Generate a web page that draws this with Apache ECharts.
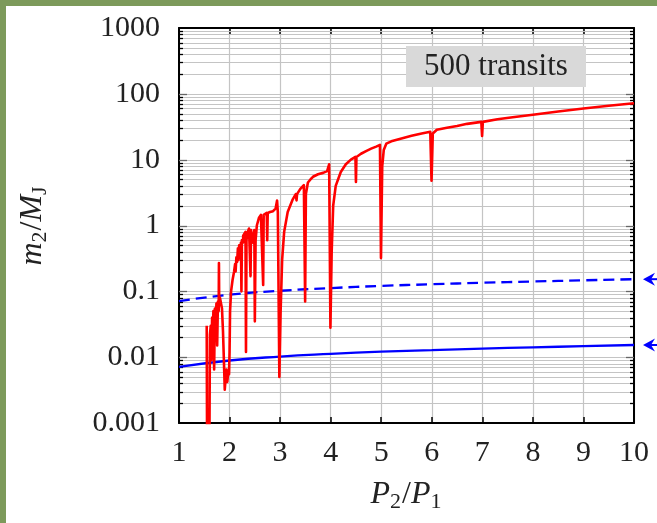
<!DOCTYPE html>
<html><head><meta charset="utf-8">
<script src="https://cdn.jsdelivr.net/npm/echarts@6/dist/echarts.min.js"></script>
<style>html,body{margin:0;padding:0;background:#fff;}#c{width:657px;height:523px;}</style>
</head><body><div id="c"></div>
<script>
// ---- data ----
const xTickLabels = ['1','2','3','4','5','6','7','8','9','10'];
const yTickLabels = ['0.001','0.01','0.1','1','10','100','1000'];
const blueX = [1, 2, 3, 4, 5, 6, 7, 8, 9, 10];
const blueSolid = [0.0071, 0.0089, 0.0102, 0.0112, 0.0121, 0.0128, 0.0135, 0.0141, 0.0147, 0.0153];
const blueDashed = [0.071, 0.089, 0.102, 0.112, 0.121, 0.128, 0.135, 0.141, 0.147, 0.153];
const redCurve = [
  [1.548, 0.03], [1.556, 0.0003], [1.60, 0.0003], [1.612, 0.022], [1.628, 0.03],
  [1.64, 0.009], [1.655, 0.04], [1.665, 0.012], [1.68, 0.05], [1.695, 0.0065],
  [1.71, 0.055], [1.725, 0.025], [1.74, 0.065], [1.755, 0.015], [1.77, 0.07],
  [1.785, 0.05], [1.79, 0.27], [1.795, 0.07], [1.81, 0.08], [1.83, 0.075],
  [1.85, 0.055], [1.87, 0.025], [1.89, 0.008], [1.905, 0.0032], [1.92, 0.0045],
  [1.94, 0.0065], [1.955, 0.0042], [1.975, 0.006], [1.99, 0.0055], [2.0, 0.012],
  [2.01, 0.05], [2.03, 0.1], [2.06, 0.15], [2.09, 0.2], [2.11, 0.26],
  [2.12, 0.2], [2.135, 0.33], [2.15, 0.28], [2.165, 0.45], [2.175, 0.3],
  [2.19, 0.5], [2.2, 0.35], [2.225, 0.55], [2.235, 0.1], [2.245, 0.6],
  [2.265, 0.55], [2.27, 0.7], [2.29, 0.75], [2.315, 0.8], [2.325, 0.012],
  [2.335, 0.6], [2.36, 0.8], [2.385, 0.9], [2.4, 0.85], [2.415, 0.17],
  [2.425, 0.85], [2.44, 0.9], [2.46, 0.55], [2.49, 0.85], [2.5, 0.035],
  [2.515, 0.6], [2.54, 1.0], [2.58, 1.3], [2.62, 1.45], [2.655, 1.5],
  [2.665, 0.125], [2.675, 1.45], [2.71, 1.55], [2.735, 1.55], [2.745, 0.6],
  [2.755, 1.55], [2.8, 1.6], [2.86, 1.65], [2.91, 1.8], [2.94, 2.4],
  [2.955, 1.6], [2.985, 0.005], [3.01, 0.05], [3.04, 0.3], [3.08, 0.8],
  [3.15, 1.6], [3.25, 2.5], [3.31, 3.0], [3.325, 2.4], [3.335, 3.0],
  [3.4, 3.6], [3.47, 4.1], [3.495, 0.07], [3.51, 3.0], [3.55, 4.5],
  [3.6, 5.0], [3.65, 5.5], [3.75, 6.0], [3.85, 6.3], [3.93, 6.7],
  [3.97, 8.5], [3.995, 0.028], [4.02, 0.4], [4.05, 2], [4.1, 4],
  [4.2, 6.5], [4.3, 8.5], [4.4, 10], [4.49, 11], [4.5, 4.6],
  [4.51, 11], [4.6, 12.3], [4.7, 13.5], [4.8, 14.7], [4.9, 15.8],
  [4.975, 16.8], [4.995, 0.32], [5.02, 8], [5.05, 14], [5.1, 17.5],
  [5.2, 19], [5.4, 21], [5.6, 23], [5.8, 25], [5.97, 26.5],
  [5.995, 4.8], [6.02, 25], [6.1, 28.5], [6.3, 30.5], [6.5, 32.5],
  [6.7, 35], [6.98, 37.5], [6.995, 23], [7.01, 37.5], [7.3, 41],
  [7.6, 44], [8.0, 48], [8.5, 54], [9.0, 60], [9.5, 66], [10, 72]
];
const labelText = '500 transits';

// ---- helpers (axis grid values) ----
const FONT = '"Liberation Serif", "DejaVu Serif", serif';
const gridVals = [];
for (let e = -3; e <= 2; e++) {
  for (let m = 1; m <= 9; m++) {
    if (m === 1 && e === -3) continue;
    gridVals.push([1, m * Math.pow(10, e), m === 1 ? 1 : 0]);
  }
}

const chart = echarts.init(document.getElementById('c'));
const axisLineStyle = {show: true, lineStyle: {color: '#000', width: 2}};
const nameRich = {
  it: {fontFamily: FONT, fontStyle: 'italic', fontSize: 32, color: '#222'},
  n: {fontFamily: FONT, fontSize: 32, color: '#222'},
  sub: {fontFamily: FONT, fontSize: 22, color: '#222', verticalAlign: 'bottom', padding: [14, 1, 0, 0]}
};

chart.setOption({
  animation: false,
  backgroundColor: '#fff',
  grid: {left: 179, right: 23, top: 28, bottom: 100, containLabel: false},
  xAxis: [{
    type: 'value', min: 1, max: 10, interval: 1, position: 'bottom',
    axisLine: axisLineStyle,
    axisTick: {show: true, inside: true, length: 6, lineStyle: {color: '#000', width: 1.5}},
    splitLine: {show: true, lineStyle: {color: '#c4c4c4', width: 1.2}},
    axisLabel: {fontFamily: FONT, fontSize: 30, color: '#222', margin: 15,
      formatter: v => xTickLabels[Math.round(v) - 1]},
    name: '{it|P}{sub|2}{n|/}{it|P}{sub|1}', nameLocation: 'middle', nameGap: 54,
    nameTextStyle: {fontFamily: FONT, color: '#222', rich: nameRich}
  }, {
    type: 'value', min: 1, max: 10, interval: 1, position: 'top',
    axisLine: axisLineStyle,
    axisTick: {show: true, inside: true, length: 6, lineStyle: {color: '#000', width: 1.5}},
    splitLine: {show: false}, axisLabel: {show: false}
  }],
  yAxis: [{
    type: 'log', logBase: 10, min: 0.001, max: 1000, splitNumber: 6, position: 'left',
    axisLine: axisLineStyle, axisTick: {show: false}, splitLine: {show: false},
    axisLabel: {fontFamily: FONT, fontSize: 30, color: '#222', margin: 19,
      formatter: v => yTickLabels[Math.round(Math.log10(v)) + 3]},
    name: '{it|m}{sub|2}{n|/}{it|M}{sub|J}', nameLocation: 'middle', nameGap: 128, nameRotate: 90,
    nameTextStyle: {fontFamily: FONT, color: '#222', rich: nameRich}
  }, {
    type: 'log', logBase: 10, min: 0.001, max: 1000, splitNumber: 6, position: 'right',
    axisLine: axisLineStyle, axisTick: {show: false}, splitLine: {show: false},
    axisLabel: {show: false}
  }],
  series: [{
    type: 'custom', xAxisIndex: 0, yAxisIndex: 0, z: 1, silent: true,
    data: gridVals,
    renderItem: function (params, api) {
      const cs = params.coordSys;
      const y = Math.round(api.coord([1, api.value(1)])[1]) + 0.5;
      const major = api.value(2) === 1;
      const tl = major ? 8 : 4;
      return {type: 'group', children: [
        {type: 'line', shape: {x1: cs.x, y1: y, x2: cs.x + cs.width, y2: y},
          style: {stroke: '#c4c4c4', lineWidth: 1}},
        {type: 'line', shape: {x1: cs.x, y1: y, x2: cs.x + tl, y2: y},
          style: {stroke: major ? '#666' : '#000', lineWidth: 1.3}},
        {type: 'line', shape: {x1: cs.x + cs.width - tl, y1: y, x2: cs.x + cs.width, y2: y},
          style: {stroke: major ? '#666' : '#000', lineWidth: 1.3}}
      ]};
    }
  }, {
    name: 'dashed', type: 'line', xAxisIndex: 0, yAxisIndex: 0, z: 4,
    data: blueX.map((x, i) => [x, blueDashed[i]]), smooth: true, showSymbol: false,
    lineStyle: {color: '#0000ff', width: 2.3, type: [11, 6]}
  }, {
    name: 'solid', type: 'line', xAxisIndex: 0, yAxisIndex: 0, z: 4,
    data: blueX.map((x, i) => [x, blueSolid[i]]), smooth: true, showSymbol: false,
    lineStyle: {color: '#0000ff', width: 2.3}
  }, {
    name: 'red', type: 'line', xAxisIndex: 0, yAxisIndex: 0, z: 5, clip: true,
    data: redCurve, showSymbol: false,
    lineStyle: {color: '#ff0000', width: 2.6, join: 'round'}
  }],
  graphic: [
    {id: 'gl', type: 'rect', shape: {x: 0, y: 0, width: 6, height: 523}, style: {fill: '#7d9a5b'}, z: 100},
    {id: 'gt', type: 'rect', shape: {x: 0, y: 0, width: 657, height: 6}, style: {fill: '#7d9a5b'}, z: 100},
    {id: 'lb', type: 'rect', shape: {x: 406, y: 46, width: 180, height: 41}, style: {fill: '#d9d9d9'}, z: 50},
    {id: 'lt', type: 'text', x: 496, y: 67, z: 51,
      style: {text: labelText, font: '31px ' + FONT, fill: '#222', align: 'center', verticalAlign: 'middle'}}
  ]
});

function arrow(id, yVal) {
  const p = chart.convertToPixel({gridIndex: 0}, [10, yVal]);
  const tip = p[0] + 9, y = p[1];
  return [
    {id: id + 'h', type: 'polygon', z: 60,
      shape: {points: [[tip, y], [tip + 12, y - 6.5], [tip + 8, y], [tip + 12, y + 6.5]]},
      style: {fill: '#0000ff'}},
    {id: id + 's', type: 'line', z: 60,
      shape: {x1: tip + 6, y1: y, x2: 657, y2: y}, style: {stroke: '#0000ff', lineWidth: 2}}
  ];
}
chart.setOption({graphic: [].concat(arrow('a1', blueDashed[9]), arrow('a2', blueSolid[9]))});
</script></body></html>
